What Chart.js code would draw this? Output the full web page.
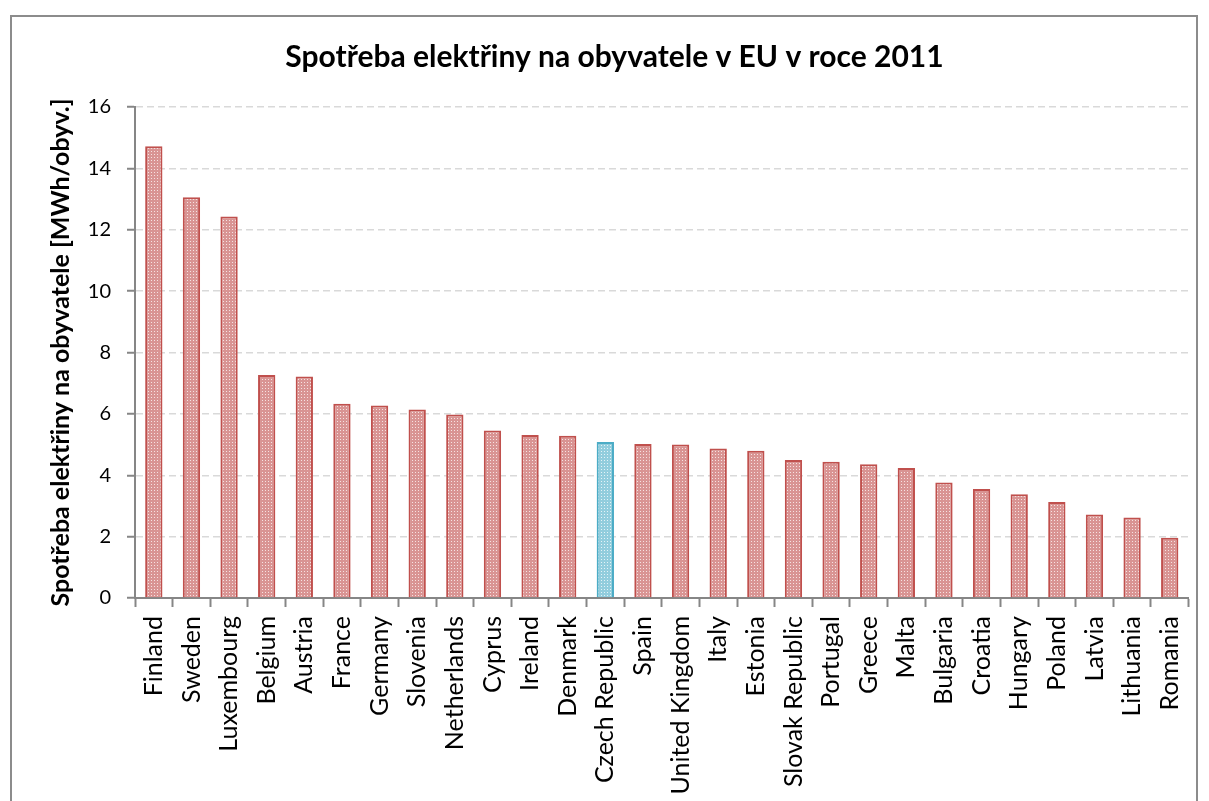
<!DOCTYPE html>
<html>
<head>
<meta charset="utf-8">
<script src="https://cdn.jsdelivr.net/npm/chart.js@4/dist/chart.umd.min.js"></script>
<style>
  body { margin: 0; background: #fff; }
  #frame { position: absolute; left: 10px; top: 15px; width: 1188px; height: 820px; border: 2px solid #8c8c8c; box-sizing: border-box; }
  #wrap { position: absolute; left: 0; top: 0; width: 1209px; height: 801px; }
</style>
</head>
<body>
<div id="frame"></div>
<div id="wrap"><canvas id="chart"></canvas></div>
<script>
// Electricity consumption per capita, EU 2011 (MWh per inhabitant)
const countries = ['Finland', 'Sweden', 'Luxembourg', 'Belgium', 'Austria', 'France', 'Germany', 'Slovenia',
  'Netherlands', 'Cyprus', 'Ireland', 'Denmark', 'Czech Republic', 'Spain', 'United Kingdom', 'Italy',
  'Estonia', 'Slovak Republic', 'Portugal', 'Greece', 'Malta', 'Bulgaria', 'Croatia', 'Hungary',
  'Poland', 'Latvia', 'Lithuania', 'Romania'];
const consumption = [14.72, 13.06, 12.43, 7.27, 7.22, 6.33, 6.27, 6.14,
  5.98, 5.46, 5.31, 5.29, 5.08, 5.02, 5.0, 4.87,
  4.8, 4.5, 4.44, 4.36, 4.24, 3.76, 3.55, 3.38,
  3.13, 2.72, 2.62, 1.96];
const highlight = 'Czech Republic';
const yTicks = [0, 2, 4, 6, 8, 10, 12, 14, 16];

const fontFamily = 'Lato, "Open Sans", sans-serif';

// small dotted pattern like the Excel fill
function makePattern(base, dot) {
  const c = document.createElement('canvas');
  c.width = 3; c.height = 3;
  const g = c.getContext('2d');
  g.fillStyle = base; g.fillRect(0, 0, 3, 3);
  g.fillStyle = dot; g.fillRect(1, 1, 1, 1);
  return g.createPattern(c, 'repeat');
}
const redFill = makePattern('#d99493', '#f6e2e2');
const blueFill = makePattern('#92cddd', '#e4f3f7');

const fills = countries.map(c => c === highlight ? blueFill : redFill);
const borders = countries.map(c => c === highlight ? '#4bacc6' : '#c0504d');

const ctx = document.getElementById('chart').getContext('2d');
new Chart(ctx, {
  type: 'bar',
  data: {
    labels: countries,
    datasets: [{
      data: consumption,
      backgroundColor: fills,
      borderColor: borders,
      borderWidth: 2,
      barPercentage: 0.92,
      categoryPercentage: 0.5
    }]
  },
  options: {
    responsive: true,
    maintainAspectRatio: false,
    animation: false,
    layout: { padding: { left: 36, right: 16, top: 0, bottom: 0 } },
    plugins: {
      legend: { display: false },
      tooltip: { enabled: false },
      title: {
        display: true,
        text: 'Spotřeba elektřiny na obyvatele v EU v roce 2011',
        color: '#000',
        font: { family: fontFamily, size: 30, weight: 'bold' },
        padding: { top: 39, bottom: 32 }
      }
    },
    scales: {
      x: {
        afterFit: s => { s.height = 203; },
        grid: { display: true, drawOnChartArea: false, offset: true, tickLength: 9, tickColor: '#868686', tickWidth: 2 },
        border: { color: '#868686', width: 2 },
        ticks: {
          color: '#000', autoSkip: false, maxRotation: 90, minRotation: 90, padding: 9,
          font: { family: fontFamily, size: 25 }
        }
      },
      y: {
        min: 0, max: 16,
        afterFit: s => { s.width = 99; },
        afterBuildTicks: s => { s.ticks = yTicks.map(v => ({ value: v })); },
        grid: { color: '#d9d9d9', lineWidth: 1.5, tickLength: 8, tickColor: '#868686', tickBorderDash: [], tickWidth: 2 },
        border: { color: '#868686', width: 2, dash: [7, 4] },
        ticks: { color: '#000', padding: 16, font: { family: fontFamily, size: 20 } },
        title: {
          display: true,
          text: 'Spotřeba elektřiny na obyvatele [MWh/obyv.]',
          color: '#000',
          font: { family: fontFamily, size: 25, weight: 'bold' },
          padding: { top: 10, bottom: 0 }
        }
      }
    }
  }
});
</script>
</body>
</html>
